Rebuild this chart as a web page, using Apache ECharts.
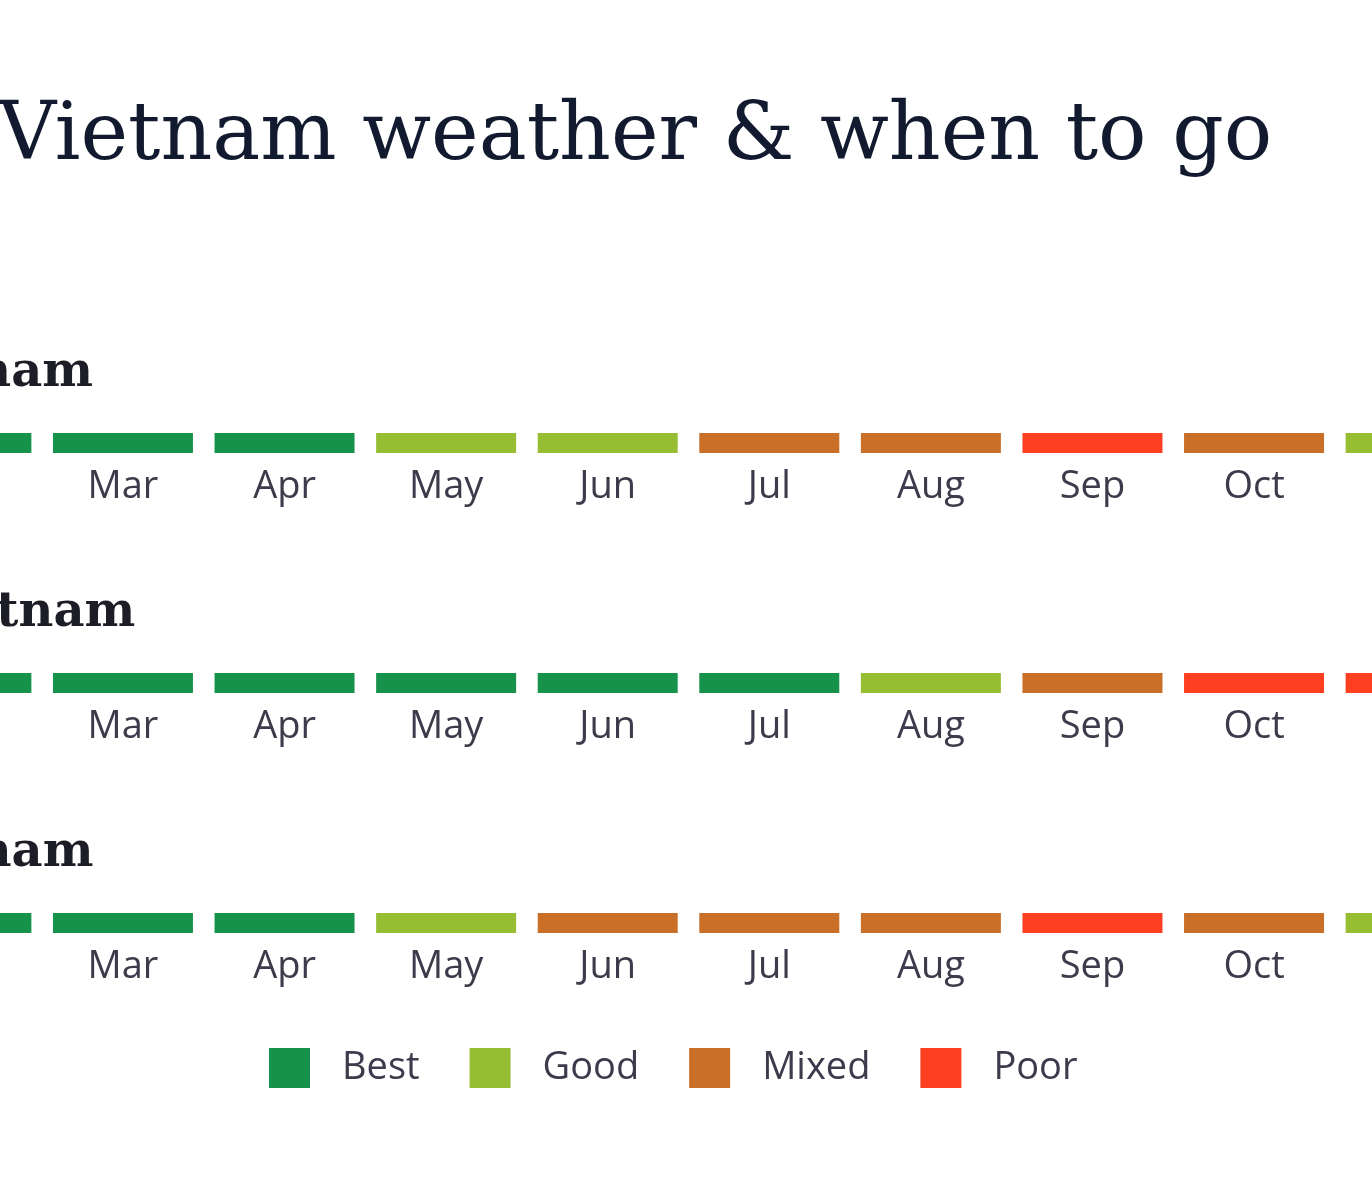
<!DOCTYPE html>
<html><head><meta charset="utf-8">
<script src="https://cdn.jsdelivr.net/npm/echarts@6/dist/echarts.min.js"></script>
<style>html,body{margin:0;padding:0;background:#fff;overflow:hidden;width:1372px;height:1182px}#c{position:absolute;left:-281px;top:0;width:1939px;height:1182px}</style>
</head><body><div id="c"></div>
<script>
const months = ['Jan','Feb','Mar','Apr','May','Jun','Jul','Aug','Sep','Oct','Nov','Dec'];
const regions = ['North Vietnam','Central Vietnam','South Vietnam'];
const north   = ['Good','Best','Best','Best','Good','Good','Mixed','Mixed','Poor','Mixed','Good','Good'];
const central = ['Good','Best','Best','Best','Best','Best','Best','Good','Mixed','Poor','Poor','Mixed'];
const south   = ['Best','Best','Best','Best','Good','Mixed','Mixed','Mixed','Poor','Mixed','Good','Best'];
const ratings = ['Best','Good','Mixed','Poor'];
const colors = {Best:'#17924a', Good:'#97bd33', Mixed:'#c96f28', Poor:'#fe4020'};
const rows = [north, central, south];

const gridTops = [433, 673, 913];
const titleTops = [345, 585, 825];
const grids = [], xAxes = [], yAxes = [], series = [], titles = [];
titles.push({text:'Vietnam weather & when to go', left:274, top:93,
  textStyle:{fontFamily:'DejaVu Serif', fontWeight:'normal', fontSize:80.5, color:'#111a2e'}});
rows.forEach((row, i) => {
  grids.push({left:0, right:0, top:gridTops[i], height:20});
  xAxes.push({type:'category', gridIndex:i, data:months, axisLine:{show:false}, axisTick:{show:false},
    axisLabel:{fontSize:38, fontFamily:'Open Sans', color:'#3b3b4b', margin:15, interval:0}});
  yAxes.push({type:'value', gridIndex:i, min:0, max:1, show:false, splitLine:{show:false}});
  titles.push({text:regions[i], left:-30, top:titleTops[i],
    textStyle:{fontFamily:'DejaVu Serif', fontWeight:'bold', fontSize:48, color:'#1d1d27'}});
  ratings.forEach(r => {
    series.push({name:r, type:'bar', xAxisIndex:i, yAxisIndex:i, barWidth:140, barGap:'-100%',
      itemStyle:{color:colors[r]}, silent:true,
      data: row.map(v => v === r ? 1 : '-')});
  });
});
const chart = echarts.init(document.getElementById('c'));
chart.setOption({
  animation:false,
  title: titles,
  legend:{data:ratings, left:269+281, top:1048, itemWidth:41, itemHeight:40, itemGap:50, icon:'rect', padding:0,
    textStyle:{fontSize:38, fontFamily:'Open Sans', color:'#3b3b4b', padding:[0,0,0,27]}},
  grid: grids, xAxis: xAxes, yAxis: yAxes, series: series
});
</script></body></html>
